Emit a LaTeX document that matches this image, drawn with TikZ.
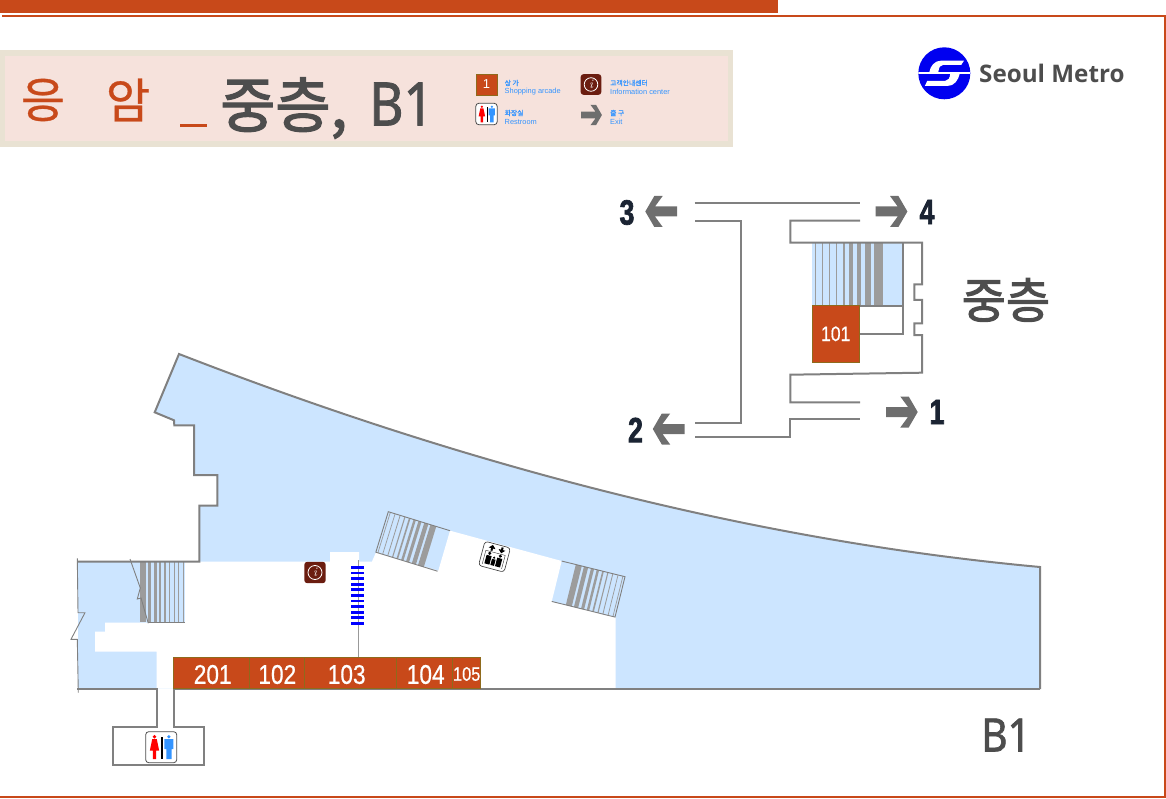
\documentclass[tikz,border=0pt]{standalone}
\usepackage{fontspec}
\usepackage{tikz}
\newfontfamily\krfont{Noto Sans CJK KR}
\newfontfamily\krmedium[FakeBold=0.7]{Noto Sans CJK KR}
\newfontfamily\krheavy[FakeBold=2.2]{Noto Sans CJK KR}
\newfontfamily\latinfont[FakeStretch=0.88,FakeBold=1.4]{Noto Sans}
\newfontfamily\metrofont{Open Sans}
\newfontfamily\legendfont{Liberation Sans}
\newfontfamily\roomfont[FakeStretch=0.84,FakeBold=0.6]{Liberation Sans}
\newfontfamily\exitfont[FakeStretch=0.76,FakeBold=2]{Liberation Sans}
\definecolor{shop}{HTML}{C8491A}
\definecolor{shopedge}{HTML}{8F6A1C}
\definecolor{wallgray}{HTML}{808080}
\definecolor{stepgray}{HTML}{9C9C9C}
\definecolor{floorblue}{HTML}{CCE5FF}
\definecolor{textgray}{HTML}{4D4D4D}
\definecolor{legendblue}{HTML}{3394FF}
\definecolor{infored}{HTML}{6B1D10}
\definecolor{exitnavy}{HTML}{1B2433}
\definecolor{titleedge}{HTML}{E9E2D3}
\definecolor{titlefill}{HTML}{F6E2DC}
\definecolor{logoblue}{HTML}{0000F0}
\tikzset{
  wall/.style={draw=wallgray,line width=2pt},
  thinwall/.style={draw=wallgray,line width=0.9pt},
  shopbox/.style={fill=shop,draw=shopedge,line width=0.8pt},
  roomlabel/.style={text=white,inner sep=0pt,font=\roomfont\fontsize{27}{27}\selectfont},
  exitlabel/.style={text=exitnavy,inner sep=0pt,font=\exitfont\bfseries\fontsize{35}{35}\selectfont},
  legendkr/.style={anchor=west,inner sep=0pt,text=legendblue,font=\krmedium\fontsize{6.8}{6.8}\selectfont},
  legenden/.style={anchor=west,inner sep=0pt,text=legendblue,font=\legendfont\fontsize{7.4}{7.4}\selectfont},
  stairbands/.pic={
    \foreach \s/\w in {3.3/1.1,11/1.1,19.2/1.3,27/1.7,34.7/2.5,42.8/3.7,51.3/4.8,61.6/6.6,73/9.4}
      \fill[stepgray] (\s-\w/2,0) rectangle (\s+\w/2,100);
  },
  exitarrow/.pic={
    \fill[black!57] (0,-5) -- (22,-5) -- (14.3,-15.5) -- (22.7,-15.5) -- (31.7,0) -- (22.7,15.5)
      -- (14.3,15.5) -- (22,5) -- (0,5) -- cycle;
  },
  infoicon/.pic={
    \fill[infored,rounded corners=3pt] (-10.7,-10.7) rectangle (10.7,10.7);
    \draw[white,line width=0.8pt] (0,0) circle (7);
    \node[text=white,inner sep=0pt,font=\fontsize{13}{13}\selectfont\itshape] (-i) at (0,0) {i};
  },
  restroomicon/.pic={
    \draw[fill=white,draw=black!70,line width=0.8pt,rounded corners=3pt] (-15.5,-15.5) rectangle (15.5,15.5);
    % woman
    \fill[red] (-6.7,-10.5) circle (1.8);
    \fill[red] (-9,-8) -- (-4.4,-8) -- (-2,3.5) -- (-5,3.5) -- (-5,12) -- (-8.4,12) -- (-8.4,3.5) -- (-11.4,3.5) -- cycle;
    % man
    \fill[legendblue] (7.7,-10.5) circle (1.8);
    \fill[legendblue] (3.2,-8) -- (12.2,-8) -- (12.2,2) -- (10.3,2) -- (10.3,12) -- (5.1,12) -- (5.1,2) -- (3.2,2) -- cycle;
    \fill[black] (0.1,-10) rectangle (1.3,12);
  },
  elevatoricon/.pic={
    \draw[draw=black!80,fill=white,line width=0.6pt,rounded corners=3pt] (-13.2,-12.5) rectangle (13.2,12.5);
    \draw[black!80,line width=0.4pt] (-10,-4) -- (10,-4) (-10,-4) -- (-10,10) (10,-4) -- (10,10);
    \fill[black] (-4.5,-11) -- (-1,-7.5) -- (-3.5,-7.5) -- (-3.5,-5) -- (-5.5,-5) -- (-5.5,-7.5) -- (-8,-7.5) -- cycle;
    \fill[black] (5.5,-5) -- (2,-8.5) -- (4.5,-8.5) -- (4.5,-11) -- (6.5,-11) -- (6.5,-8.5) -- (9,-8.5) -- cycle;
    \foreach \px/\ph in {-5.5/1,5.5/1,0/0.72} {
      \fill[black] (\px,9-11*\ph) circle (1.7*\ph);
      \fill[black] (\px-2.6*\ph,9-8.8*\ph) rectangle (\px+2.6*\ph,9);
    }
  },
}
\begin{document}
\begin{tikzpicture}[x=1pt,y=-1pt]
  \useasboundingbox (0,0) rectangle (1166,799);
  % frame
  \fill[shop] (0,0) rectangle (778,13);
  \draw[shop,line width=2pt] (2,15.8) -- (1165,15.8) -- (1165,797) -- (0,797);
  % title panel
  \fill[titleedge] (0,50) rectangle (733,147);
  \fill[titlefill] (5,56) rectangle (728,141);
  \node[text=shop,inner sep=0pt,font=\krmedium\fontsize{48}{48}\selectfont] (stationA) at (43,100) {응};
  \node[text=shop,inner sep=0pt,font=\krmedium\fontsize{48}{48}\selectfont] (stationB) at (128,100) {암};
  \fill[shop] (180,124.5) rectangle (207,127.5);
  \node[text=textgray,inner sep=0pt,anchor=west,font=\krheavy\fontsize{60}{60}\selectfont] (titlefloor) at (220,108) {중층,};
  \node[text=textgray,inner sep=0pt,anchor=west,font=\latinfont\fontsize{60}{60}\selectfont] (titleB) at (369,104) {B1};
  % legend
  \node[shopbox,minimum width=21pt,minimum height=21pt,inner sep=0pt,text=white,font=\legendfont\fontsize{13}{13}\selectfont] (legendshop) at (486.5,84.5) {1};
  \pic (legendinfo) at (591,84.5) [scale=0.97] {infoicon};
  \pic (legendrest) at (486.5,114) [scale=0.69] {restroomicon};
  \pic (legendexit) at (581,115) [scale=0.66] {exitarrow};
  \node[legendkr] (shopkr) at (504.5,83) {상 가};
  \node[legenden] (shopen) at (504.5,92) {Shopping arcade};
  \node[legendkr] (infokr) at (610,83) {고객안내센터};
  \node[legenden] (infoen) at (610,92) {Information center};
  \node[legendkr] (restkr) at (504.5,113) {화장실};
  \node[legenden] (resten) at (504.5,122) {Restroom};
  \node[legendkr] (exitkr) at (610,113) {출 구};
  \node[legenden] (exiten) at (610,122) {Exit};
  % logo
  \begin{scope}[shift={(944.3,73.3)}]
    \fill[logoblue] (0,0) circle (26);
    \clip (0,0) circle (26);
    \fill[white] (-26,-1.2) rectangle (26,0.5);
    \fill[white] (19.7,-12.7) -- (-3,-12.7) .. controls (-10,-12.7) and (-14,-7) .. (-15,-1) -- (-6,-1)
      .. controls (-5.5,-6) and (-4,-8.5) .. (-1,-8.5) -- (17,-8.5) -- cycle;
    \fill[white] (15.5,0) -- (6,0) .. controls (5.5,5) and (4,7.5) .. (1,7.5) -- (-17,7.5) -- (-19.5,12.7)
      -- (3,12.7) .. controls (10,12.7) and (14,7) .. (15.5,0) -- cycle;
  \end{scope}
  \node[text=textgray,inner sep=0pt,anchor=west,font=\metrofont\bfseries\fontsize{24.2}{24.2}\selectfont] (logotext) at (979,73) {Seoul Metro};
  % mezzanine walls
  \fill[floorblue] (812.3,242.7) rectangle (902.7,305.7);
  \pic[xscale=0.904,yscale=0.63] at (812.3,242.7) {stairbands};
  \draw[wall] (694.5,203.3) -- (860,203.3);
  \draw[wall] (695,220.7) -- (740.7,220.7) -- (740.7,422.7) -- (695,422.7);
  \draw[wall] (695,436.7) -- (790.3,436.7) -- (790.3,419) -- (860,419);
  \draw[wall] (860,220.7) -- (790.3,220.7) -- (790.3,242.7) -- (922,242.7) -- (922,284.3) -- (914.3,284.3)
    -- (914.3,300) -- (922,300) -- (922,323.3) -- (914.3,323.3) -- (914.3,335) -- (922,335) -- (922,372.7)
    -- (790.3,374.7) -- (790.3,402.3) -- (860,402.3);
  \draw[wall] (902.7,242.7) -- (902.7,334) -- (859,334);
  \draw[wall] (859,305.7) -- (902.7,305.7);
  \node[shopbox,minimum width=46.7pt,minimum height=56.3pt,inner sep=0pt,text=white,font=\roomfont\fontsize{21}{21}\selectfont] (shop101) at (835.7,333.8) {101};
  % exits
  \pic (exitthree) at (677,211.5) [xscale=-1] {exitarrow};
  \pic (exitfour) at (875.7,211.5) {exitarrow};
  \pic (exittwo) at (684.5,429) [xscale=-1] {exitarrow};
  \pic (exitone) at (886,412) {exitarrow};
  \node[exitlabel] (numthree) at (627,212.5) {3};
  \node[exitlabel] (numfour) at (927,212) {4};
  \node[exitlabel] (numtwo) at (635.5,430) {2};
  \node[exitlabel] (numone) at (937,412) {1};
  \node[text=textgray,inner sep=0pt,font=\krheavy\fontsize{48}{48}\selectfont] (mezzlabel) at (1006,300) {중층};
  \node[text=textgray,inner sep=0pt,font=\latinfont\fontsize{46}{46}\selectfont] (floorlabel) at (1006,735) {B1};
  % B1 floor
  \fill[floorblue] (78,561.5) -- (199.3,561.5) -- (199.3,505.7) -- (217.3,505.7) -- (217.3,475) -- (194,475)
    -- (194,425.3) -- (174.3,425.3) -- (174,420.3) -- (154.7,412.3) -- (179,354)
    .. controls (470,467) and (757,541) .. (1040,567) -- (1040,688.5) -- (78,688.5) -- cycle;
  \fill[white] (185,561.5) -- (330,561.5) -- (330,552) -- (359,552) -- (359,561.5) -- (372,561.5) -- (376,552.3)
    -- (438.3,570.7) -- (450,530.7) -- (561.7,561) -- (551.7,601.7) -- (615.7,617.3) -- (615.7,688.5)
    -- (156.7,688.5) -- (156.7,651.7) -- (95,651.7) -- (95,631.7) -- (105,631.7) -- (105,622.7) -- (185,622.7) -- cycle;
  % stairs
  \begin{scope}[shift={(388.3,511.7)},rotate=-17.1]
    \pic[transform shape,xscale=0.646,yscale=0.424] at (0,0) {stairbands};
    \draw[thinwall] (64.6,0) -- (0,0) -- (0,42.4) -- (64.6,42.4);
  \end{scope}
  \begin{scope}[shift={(625,576.7)},rotate=-13.9]
    \pic[transform shape,xscale=-0.652,yscale=0.416] at (0,0) {stairbands};
    \draw[thinwall] (-65.2,0) -- (0,0) -- (0,41.6) -- (-65.2,41.6);
  \end{scope}
  \pic[xscale=-0.575,yscale=0.612] at (185,561.2) {stairbands};
  \draw[thinwall] (148.3,622.7) -- (185,622.7);
  \draw[thinwall] (130,559) -- (140.3,588) -- (137.3,599) -- (141,598) -- (148.3,623.3);
  % walls
  \draw[wall] (77.3,561.5) -- (199.3,561.5) -- (199.3,505.7) -- (217.3,505.7) -- (217.3,475) -- (194,475)
    -- (194,425.3) -- (174.3,425.3) -- (174,420.3) -- (154.7,412.3) -- (179,354)
    .. controls (470,467) and (757,541) .. (1040,567) -- (1040,689);
  \draw[wall] (77.3,689) -- (156.7,689) -- (156.7,727.3) -- (112.7,727.3) -- (112.7,765) -- (204,765)
    -- (204,727.3) -- (174,727.3) -- (174,689) -- (1040,689);
  \draw[thinwall] (77.3,558.3) -- (78,612.7) -- (85,612.7) -- (71,639.3) -- (77.3,639.3) -- (78.3,692.7);
  % shops
  \node[shopbox,minimum width=306.8pt,minimum height=30.5pt,inner sep=0pt] (shopstrip) at (327.2,672.7) {};
  \foreach \x in {249.3,304.3,396.7,452.7}
    \draw[shopedge,line width=1pt] (\x,657.5) -- (\x,688);
  \node[roomlabel] (shop201) at (212.7,674.5) {201};
  \node[roomlabel] (shop102) at (277.3,674.5) {102};
  \node[roomlabel] (shop103) at (346.7,674.5) {103};
  \node[roomlabel] (shop104) at (425.7,674.5) {104};
  \node[roomlabel,font=\roomfont\fontsize{19.5}{19.5}\selectfont] (shop105) at (466.7,674) {105};
  \draw[black!40,line width=0.7pt] (358.5,560) -- (358.5,657);
  % stripes
  \foreach \i in {0,...,10}
    \fill[blue] (351.3,{566+\i*5.6}) rectangle (364.3,{568.7+\i*5.6});
  % icons
  \pic (infofloor) at (315,572.5) {infoicon};
  \pic (restfloor) at (161.2,747.2) {restroomicon};
  \begin{scope}[shift={(494.5,556.7)},rotate=-15]
    \pic[transform shape] (liftfloor) at (0,0) {elevatoricon};
  \end{scope}
\end{tikzpicture}
\end{document}
